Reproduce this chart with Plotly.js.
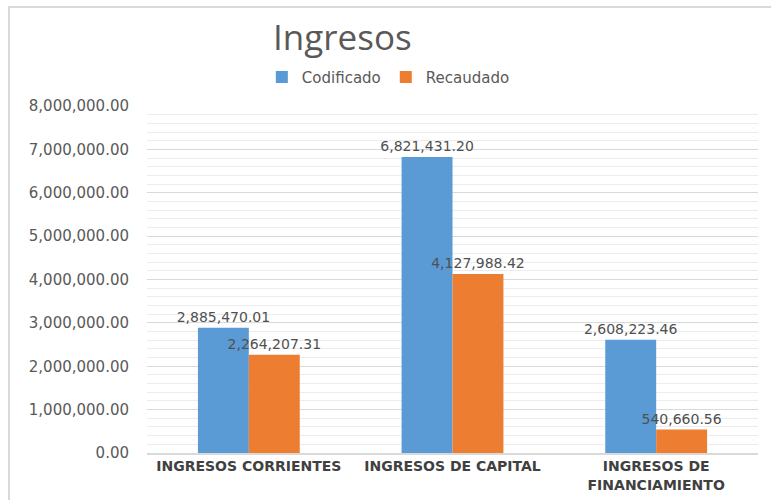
<!DOCTYPE html>
<html>
<head>
<meta charset="utf-8">
<script src="https://cdn.plot.ly/plotly-3.0.1.min.js"></script>
<style>
  html, body { margin: 0; padding: 0; background: #fff; }
  #wrap { position: relative; width: 771px; height: 500px; overflow: hidden; }
  #frame { position: absolute; left: 8px; top: 6px; width: 800px; height: 520px; border: 2px solid #d9d9d9; box-sizing: border-box; pointer-events: none; }
  #chart { position: absolute; left: 0; top: 0; width: 771px; height: 500px; }
</style>
</head>
<body>
<div id="wrap">
  <div id="chart"></div>
  <div id="frame"></div>
</div>
<script>
const categories = ["INGRESOS CORRIENTES", "INGRESOS DE CAPITAL", "INGRESOS DE<br>FINANCIAMIENTO"];
const codificado = [2885470.01, 6821431.20, 2608223.46];
const recaudado = [2264207.31, 4127988.42, 540660.56];
const seriesNames = ["Codificado", "Recaudado"];
const yTicks = [0, 1000000, 2000000, 3000000, 4000000, 5000000, 6000000, 7000000, 8000000];

const fmt = v => v.toLocaleString('en-US', {minimumFractionDigits: 2, maximumFractionDigits: 2});
const FONT = "DejaVu Sans, Open Sans, sans-serif";

const traces = [
  {
    type: 'bar', name: seriesNames[0], x: categories, y: codificado,
    marker: {color: '#5B9BD5'},
    text: codificado.map(fmt), textposition: 'outside', cliponaxis: false,
    constraintext: 'none', textfont: {family: FONT, size: 14, color: '#505050'},
    hoverinfo: 'none'
  },
  {
    type: 'bar', name: seriesNames[1], x: categories, y: recaudado,
    marker: {color: '#ED7D31'},
    text: recaudado.map(fmt), textposition: 'outside', cliponaxis: false,
    constraintext: 'none', textfont: {family: FONT, size: 14, color: '#505050'},
    hoverinfo: 'none'
  }
];

const layout = {
  width: 771, height: 500,
  margin: {l: 147, r: 13, t: 106, b: 47},
  paper_bgcolor: '#ffffff', plot_bgcolor: '#ffffff',
  font: {family: FONT, color: '#595959'},
  title: {
    text: 'Ingresos', xref: 'container', yref: 'container',
    x: 0.444, xanchor: 'center', y: 0.924, yanchor: 'middle',
    font: {family: "Open Sans, sans-serif", size: 35, color: '#595959'}
  },
  showlegend: true,
  legend: {
    orientation: 'h', x: 0.395, xanchor: 'center', y: 1.083, yanchor: 'middle',
    font: {family: FONT, size: 15, color: '#595959'},
    itemwidth: 30, traceorder: 'normal'
  },
  barmode: 'group', bargap: 0.5, bargroupgap: 0,
  xaxis: {
    type: 'category', showgrid: false, showline: true, linecolor: '#d9d9d9', linewidth: 1.5,
    ticks: '', tickfont: {family: FONT, size: 14, color: '#404040', weight: 'bold'},
    fixedrange: true
  },
  yaxis: {
    range: [0, 8000000], tickvals: yTicks, ticktext: yTicks.map(fmt),
    showgrid: true, gridcolor: '#d9d9d9', gridwidth: 1, zeroline: false,
    showline: false, ticks: '', ticklabelstandoff: 17,
    tickfont: {family: FONT, size: 15, color: '#595959'},
    minor: {dtick: 200000, showgrid: true, gridcolor: '#ececec', gridwidth: 1, ticks: ''},
    fixedrange: true
  }
};

Plotly.newPlot('chart', traces, layout, {displayModeBar: false, staticPlot: true});
</script>
</body>
</html>
